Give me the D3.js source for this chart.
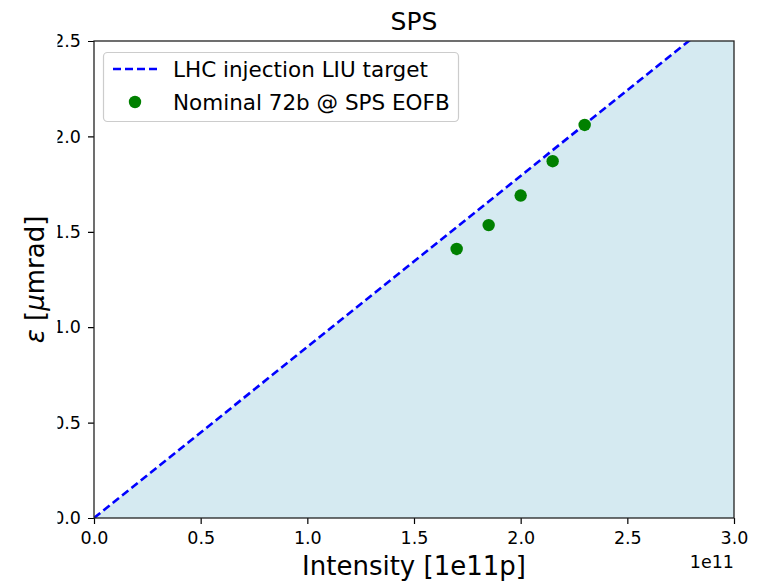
<!DOCTYPE html>
<html>
<head>
<meta charset="utf-8">
<script src="https://cdn.jsdelivr.net/npm/d3@7"></script>
<style>
  html, body { margin: 0; padding: 0; background: #fff; }
  svg { display: block; font-family: "DejaVu Sans", sans-serif; }
</style>
</head>
<body>
<svg id="chart" width="776" height="583"></svg>
<script>
// Data
const targetIntensity = [0, 3.0];          // 1e11 p
const targetEmittance = [0, 2.69];         // µm rad (LIU target line)
const nominalIntensity = [1.70, 1.85, 2.00, 2.15, 2.30];
const nominalEmittance = [1.41, 1.535, 1.69, 1.87, 2.06];
const xTicks = [0, 0.5, 1.0, 1.5, 2.0, 2.5, 3.0];
const yTicks = [0, 0.5, 1.0, 1.5, 2.0, 2.5];

const svg = d3.select("#chart");
const m = { left: 94, right: 734, top: 41, bottom: 518 };

const x = d3.scaleLinear().domain([0, 3]).range([m.left, m.right]);
const y = d3.scaleLinear().domain([0, 2.5]).range([m.bottom, m.top]);

const defs = svg.append("defs");
defs.append("clipPath").attr("id", "plotclip")
  .append("rect").attr("x", m.left).attr("y", m.top)
  .attr("width", m.right - m.left).attr("height", m.bottom - m.top);
defs.append("clipPath").attr("id", "tickclip")
  .append("rect").attr("x", 57.5).attr("y", 0).attr("width", 700).attr("height", 583);

const lineData = targetIntensity.map((v, i) => ({ x: v, y: targetEmittance[i] }));

const plot = svg.append("g").attr("clip-path", "url(#plotclip)");

// shaded region below the target line
plot.append("path")
  .datum(lineData)
  .attr("fill", "#d5eaf1")
  .attr("d", d3.area().x(d => x(d.x)).y0(y(0)).y1(d => y(d.y)));

// target line
plot.append("path")
  .datum(lineData)
  .attr("fill", "none")
  .attr("stroke", "#0000ff")
  .attr("stroke-width", 2.6)
  .attr("stroke-dasharray", "8,4")
  .attr("d", d3.line().x(d => x(d.x)).y(d => y(d.y)));

// points
plot.selectAll("circle.pt")
  .data(nominalIntensity.map((v, i) => ({ x: v, y: nominalEmittance[i] })))
  .join("circle")
  .attr("class", "pt")
  .attr("cx", d => x(d.x)).attr("cy", d => y(d.y))
  .attr("r", 6.2)
  .attr("fill", "#008000");

// Axes
const xAxis = svg.append("g")
  .attr("transform", `translate(0,${m.bottom})`)
  .call(d3.axisBottom(x).tickValues(xTicks).tickFormat(d3.format(".1f")).tickSize(6).tickPadding(8));
const yWrap = svg.append("g").attr("clip-path", "url(#tickclip)");
const yAxis = yWrap.append("g")
  .attr("transform", `translate(${m.left},0)`)
  .call(d3.axisLeft(y).tickValues(yTicks).tickFormat(d3.format(".1f")).tickSize(6).tickPadding(7));

[xAxis, yAxis].forEach(a => {
  a.select(".domain").remove();
  a.selectAll("line").attr("stroke", "#000").attr("stroke-width", 1.2);
  a.selectAll("text").attr("font-size", 17.5).attr("fill", "#000")
    .attr("font-family", "DejaVu Sans, sans-serif");
});

// Spines
svg.append("rect")
  .attr("x", m.left).attr("y", m.top)
  .attr("width", m.right - m.left).attr("height", m.bottom - m.top)
  .attr("fill", "none").attr("stroke", "#222").attr("stroke-width", 1.3);

// Offset text
svg.append("text").attr("x", m.right).attr("y", 568)
  .attr("text-anchor", "end").attr("font-size", 17.5).text("1e11");

// Title
svg.append("text").attr("x", (m.left + m.right) / 2).attr("y", 30)
  .attr("text-anchor", "middle").attr("font-size", 25).text("SPS");

// X label
svg.append("text").attr("x", (m.left + m.right) / 2).attr("y", 575)
  .attr("text-anchor", "middle").attr("font-size", 26).text("Intensity [1e11p]");

// Y label
const yl = svg.append("text")
  .attr("transform", `translate(44,${(m.top + m.bottom) / 2}) rotate(-90)`)
  .attr("text-anchor", "middle").attr("font-size", 26);
yl.append("tspan").attr("font-style", "italic").text("ε");
yl.append("tspan").text(" [");
yl.append("tspan").attr("font-style", "italic").text("μ");
yl.append("tspan").text("mrad]");

// Legend
const lg = svg.append("g");
lg.append("rect").attr("x", 103.5).attr("y", 52.5).attr("width", 355).attr("height", 69)
  .attr("rx", 4).attr("fill", "#fff").attr("fill-opacity", 0.85)
  .attr("stroke", "#cccccc").attr("stroke-width", 1.2);
lg.append("line").attr("x1", 113).attr("x2", 157).attr("y1", 69).attr("y2", 69)
  .attr("stroke", "#0000ff").attr("stroke-width", 2.6).attr("stroke-dasharray", "8,4");
lg.append("circle").attr("cx", 135).attr("cy", 102).attr("r", 6.2).attr("fill", "#008000");
lg.append("text").attr("x", 173).attr("y", 77).attr("font-size", 21.5).text("LHC injection LIU target");
lg.append("text").attr("x", 173).attr("y", 110).attr("font-size", 21.5).text("Nominal 72b @ SPS EOFB");
</script>
</body>
</html>
